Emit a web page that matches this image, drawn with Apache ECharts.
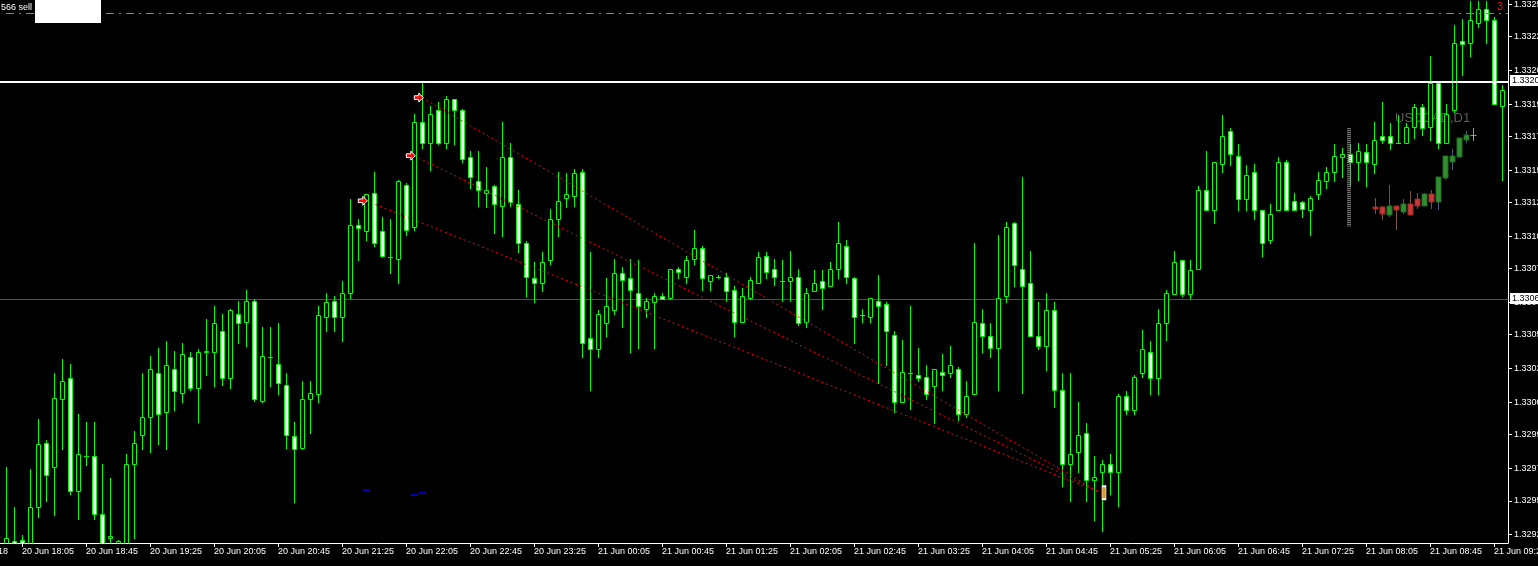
<!DOCTYPE html>
<html><head><meta charset="utf-8">
<script src="https://cdn.jsdelivr.net/npm/echarts@6/dist/echarts.min.js"></script>
<style>html,body{margin:0;padding:0;background:#000;overflow:hidden}#c{width:1538px;height:566px}</style>
</head><body><div id="c"></div><script>
const FONT = 'Liberation Sans, Arial, sans-serif';

// ---- M5 candles, 20 Jun 17:55 .. 21 Jun 09:30 (index 0..187) ----
const opens = [
1.32916,1.32917,1.32918,1.32916,1.32938,1.32978,1.32963,1.33005,1.33018,1.32948,
1.32970,1.32970,1.32934,1.32919,1.32916,1.32916,1.32965,1.32983,1.32994,1.33021,
1.32997,1.33024,1.33009,1.33031,1.33012,1.33034,1.33034,1.33047,1.33018,1.33058,
1.33053,1.33066,1.33004,1.33031,1.33027,1.33014,1.32982,1.32975,1.33005,1.33008,
1.33056,1.33066,1.33056,1.33071,1.33113,1.33109,1.33133,1.33109,1.33093,1.33092,
1.33138,1.33112,1.33177,1.33164,1.33184,1.33164,1.33191,1.33184,1.33155,1.33140,
1.33133,1.33137,1.33125,1.33155,1.33126,1.33102,1.33080,1.33077,1.33091,1.33117,
1.33130,1.33131,1.33146,1.33043,1.33036,1.33052,1.33060,1.33083,1.33080,1.33071,
1.33061,1.33065,1.33069,1.33068,1.33086,1.33081,1.33092,1.33099,1.33078,1.33081,
1.33081,1.33073,1.33053,1.33068,1.33077,1.33094,1.33086,1.33078,1.33078,1.33081,
1.33053,1.33072,1.33078,1.33075,1.33086,1.33100,1.33080,1.33057,1.33056,1.33066,
1.33064,1.33045,1.33003,1.33021,1.33020,1.33019,1.33013,1.33022,1.33021,1.33024,
1.32996,1.33008,1.33052,1.33044,1.33037,1.33069,1.33114,1.33086,1.33077,1.33044,
1.33038,1.33060,1.33011,1.32965,1.32972,1.32984,1.32955,1.32960,1.32965,1.32960,
1.33007,1.32998,1.33021,1.33034,1.33018,1.33052,1.33070,1.33091,1.33070,1.33086,
1.33135,1.33122,1.33151,1.33171,1.33156,1.33129,1.33146,1.33122,1.33104,1.33122,
1.33152,1.33128,1.33127,1.33122,1.33132,1.33140,1.33146,1.33155,1.33157,1.33152,
1.33158,1.33151,1.33168,1.33168,1.33164,1.33164,1.33174,1.33186,1.33174,1.33201,
1.33164,1.33184,1.33227,1.33226,1.33238,1.33247,1.33240,1.33187];
const highs = [
1.32963,1.32938,1.32921,1.32962,1.32993,1.32980,1.33021,1.33030,1.33027,1.32996,
1.32991,1.32991,1.32965,1.32956,1.32918,1.32971,1.32985,1.33021,1.33032,1.33037,
1.33041,1.33035,1.33040,1.33034,1.33036,1.33055,1.33063,1.33058,1.33061,1.33066,
1.33073,1.33067,1.33050,1.33050,1.33052,1.33021,1.32991,1.33016,1.33016,1.33063,
1.33071,1.33069,1.33078,1.33129,1.33117,1.33132,1.33146,1.33118,1.33117,1.33141,
1.33139,1.33182,1.33201,1.33187,1.33189,1.33193,1.33191,1.33185,1.33159,1.33159,
1.33149,1.33138,1.33177,1.33164,1.33135,1.33103,1.33090,1.33096,1.33123,1.33146,
1.33145,1.33148,1.33148,1.33096,1.33060,1.33080,1.33092,1.33087,1.33092,1.33091,
1.33068,1.33071,1.33071,1.33086,1.33087,1.33094,1.33110,1.33100,1.33082,1.33082,
1.33083,1.33075,1.33074,1.33081,1.33096,1.33096,1.33092,1.33091,1.33097,1.33086,
1.33074,1.33085,1.33085,1.33090,1.33115,1.33104,1.33081,1.33061,1.33068,1.33082,
1.33065,1.33047,1.33042,1.33063,1.33037,1.33026,1.33024,1.33033,1.33038,1.33025,
1.33016,1.33102,1.33061,1.33052,1.33107,1.33115,1.33115,1.33143,1.33097,1.33065,
1.33071,1.33065,1.33021,1.33021,1.33003,1.32990,1.32970,1.32967,1.32971,1.33008,
1.33010,1.33020,1.33048,1.33041,1.33061,1.33073,1.33097,1.33091,1.33091,1.33137,
1.33159,1.33152,1.33181,1.33173,1.33163,1.33150,1.33151,1.33122,1.33126,1.33155,
1.33153,1.33133,1.33128,1.33131,1.33146,1.33149,1.33163,1.33161,1.33163,1.33164,
1.33163,1.33177,1.33189,1.33176,1.33181,1.33176,1.33188,1.33188,1.33218,1.33202,
1.33188,1.33237,1.33241,1.33252,1.33252,1.33252,1.33242,1.33200];
const lows = [
1.32916,1.32915,1.32916,1.32915,1.32932,1.32942,1.32933,1.32974,1.32946,1.32931,
1.32964,1.32931,1.32915,1.32916,1.32915,1.32916,1.32919,1.32974,1.32972,1.32977,
1.32974,1.32998,1.33003,1.33011,1.32991,1.33020,1.33013,1.33014,1.33012,1.33040,
1.33038,1.33004,1.33003,1.33013,1.33008,1.32975,1.32941,1.32974,1.32984,1.33003,
1.33047,1.33047,1.33041,1.33068,1.33091,1.33104,1.33100,1.33093,1.33083,1.33077,
1.33107,1.33110,1.33161,1.33147,1.33163,1.33161,1.33163,1.33152,1.33136,1.33125,
1.33124,1.33108,1.33106,1.33125,1.33096,1.33069,1.33065,1.33072,1.33089,1.33106,
1.33124,1.33125,1.33031,1.33011,1.33031,1.33044,1.33058,1.33050,1.33034,1.33037,
1.33056,1.33037,1.33067,1.33067,1.33080,1.33077,1.33089,1.33073,1.33073,1.33080,
1.33066,1.33044,1.33053,1.33067,1.33077,1.33080,1.33076,1.33066,1.33066,1.33051,
1.33050,1.33072,1.33061,1.33075,1.33080,1.33077,1.33040,1.33053,1.33053,1.33015,
1.33026,1.32997,1.33003,1.32999,1.33016,1.33005,1.32990,1.33011,1.33019,1.32992,
1.32994,1.33008,1.33034,1.33031,1.33011,1.33065,1.33075,1.33009,1.33044,1.33036,
1.33023,1.33000,1.32951,1.32942,1.32960,1.32942,1.32930,1.32923,1.32946,1.32939,
1.32996,1.32996,1.33019,1.33008,1.33008,1.33042,1.33070,1.33069,1.33068,1.33086,
1.33122,1.33114,1.33146,1.33150,1.33122,1.33122,1.33117,1.33094,1.33102,1.33122,
1.33122,1.33122,1.33118,1.33107,1.33129,1.33136,1.33140,1.33143,1.33138,1.33141,
1.33137,1.33145,1.33164,1.33160,1.33164,1.33164,1.33167,1.33169,1.33166,1.33161,
1.33164,1.33183,1.33206,1.33218,1.33236,1.33226,1.33188,1.33141];
const closes = [
1.32919,1.32915,1.32916,1.32938,1.32977,1.32958,1.33006,1.33016,1.32948,1.32971,
1.32970,1.32934,1.32916,1.32920,1.32917,1.32965,1.32978,1.32994,1.33024,1.32996,
1.33026,1.33010,1.33033,1.33012,1.33034,1.33035,1.33052,1.33018,1.33060,1.33052,
1.33066,1.33005,1.33032,1.33031,1.33015,1.32983,1.32974,1.33005,1.33009,1.33057,
1.33065,1.33056,1.33071,1.33113,1.33111,1.33132,1.33102,1.33094,1.33093,1.33140,
1.33110,1.33177,1.33164,1.33182,1.33164,1.33191,1.33184,1.33154,1.33143,1.33135,
1.33135,1.33126,1.33155,1.33127,1.33102,1.33081,1.33077,1.33090,1.33117,1.33128,
1.33132,1.33145,1.33040,1.33036,1.33058,1.33063,1.33083,1.33079,1.33073,1.33063,
1.33066,1.33069,1.33067,1.33086,1.33084,1.33091,1.33099,1.33080,1.33082,1.33081,
1.33072,1.33053,1.33069,1.33079,1.33093,1.33084,1.33081,1.33078,1.33081,1.33052,
1.33071,1.33077,1.33074,1.33086,1.33102,1.33081,1.33056,1.33057,1.33068,1.33063,
1.33047,1.33003,1.33022,1.33021,1.33018,1.33008,1.33024,1.33020,1.33026,1.32996,
1.33007,1.33053,1.33044,1.33037,1.33068,1.33112,1.33088,1.33075,1.33044,1.33038,
1.33060,1.33011,1.32965,1.32971,1.32983,1.32955,1.32957,1.32965,1.32960,1.33007,
1.32998,1.33019,1.33036,1.33018,1.33052,1.33071,1.33090,1.33070,1.33085,1.33135,
1.33122,1.33152,1.33168,1.33157,1.33129,1.33144,1.33122,1.33102,1.33120,1.33152,
1.33122,1.33122,1.33123,1.33130,1.33141,1.33146,1.33156,1.33157,1.33152,1.33159,
1.33152,1.33166,1.33166,1.33164,1.33164,1.33174,1.33186,1.33173,1.33201,1.33164,
1.33182,1.33226,1.33225,1.33240,1.33247,1.33240,1.33188,1.33197];

// ---- time axis ----
const xTickIndex = [2,10,18,26,34,42,50,58,66,74,82,90,98,106,114,122,130,138,146,154,162,170,178,186];
const xTickLabels = ['20 Jun 18:05','20 Jun 18:45','20 Jun 19:25','20 Jun 20:05','20 Jun 20:45','20 Jun 21:25',
 '20 Jun 22:05','20 Jun 22:45','20 Jun 23:25','21 Jun 00:05','21 Jun 00:45','21 Jun 01:25','21 Jun 02:05',
 '21 Jun 02:45','21 Jun 03:25','21 Jun 04:05','21 Jun 04:45','21 Jun 05:25','21 Jun 06:05','21 Jun 06:45',
 '21 Jun 07:25','21 Jun 08:05','21 Jun 08:45','21 Jun 09:25'];
const firstDateLabel = '20 Jun 2018';

// ---- price axis ----
const yTickValues = [1.33250,1.33230,1.33209,1.33188,1.33168,1.33147,1.33127,1.33106,1.33086,1.33065,
 1.33045,1.33024,1.33003,1.32983,1.32962,1.32942,1.32921];
const yTickLabels = ['1.33250','1.33228','1.33207','1.33190','1.33170','1.33150','1.33125','1.33105','1.33077','1.33065',
 '1.33053','1.33025','1.33005','1.32990','1.32970','1.32950','1.32925'];

// ---- horizontal levels ----
const priceLine = 1.33202, priceLineLabel = '1.33202';
const bidLine = 1.33067, bidLineLabel = '1.33067';
const tpLevel = 1.33244;

// ---- closed trades (open index, open price) -> (close index, close price) ----
const tradeOpenX = [52, 51, 45];
const tradeOpenPrice = [1.33192, 1.33156, 1.33128];
const tradeCloseX = [136.8, 136.8, 136.8];
const tradeClosePrice = [1.32947, 1.32947, 1.32947];
const arrowX = [51.6, 50.6, 44.6];
const closeMarkX = 137.25, closeMarkPrice = 1.32947;

// ---- small blue stop marks ----
const stopX1 = [44.6, 50.6, 51.6];
const stopX2 = [45.5, 51.5, 52.5];
const stopPrice = [1.32949, 1.32946, 1.32947];

// ---- D1 mini chart indicator ----
const miniOpen  = [1.33124,1.33124,1.33119,1.33125,1.33121,1.33126,1.33129,1.33125,1.33132,1.33127,1.33142,1.33152,1.33155,1.33166,1.33169];
const miniHigh  = [1.33130,1.33125,1.33138,1.33125,1.33129,1.33134,1.33133,1.33133,1.33135,1.33143,1.33156,1.33160,1.33167,1.33171,1.33173];
const miniLow   = [1.33120,1.33116,1.33118,1.33110,1.33120,1.33119,1.33123,1.33125,1.33123,1.33122,1.33141,1.33147,1.33155,1.33164,1.33165];
const miniClose = [1.33123,1.33120,1.33125,1.33122,1.33126,1.33119,1.33125,1.33132,1.33127,1.33143,1.33156,1.33156,1.33167,1.33169,1.33169];
const ladderX = 167.9, ladderTop = 1.33173, ladderBottom = 1.33112;

const Y_MIN = 1.3291584, Y_MAX = 1.332525;
const X_MIN = -0.75, X_MAX = 187.75;

function nearest(arr, v) {
  let b = 0, d = Infinity;
  arr.forEach((a, i) => { const e = Math.abs(a - v); if (e < d) { d = e; b = i; } });
  return b;
}

function mainCandle(params, api) {
  const i = api.value(0), o = api.value(1), h = api.value(2), l = api.value(3), c = api.value(4);
  const pO = api.coord([i, o]), pC = api.coord([i, c]), pH = api.coord([i, h]), pL = api.coord([i, l]);
  const cx = Math.floor(pO[0]) + 0.5;
  const yT = Math.round(Math.min(pO[1], pC[1])) + 0.5;
  const yB = Math.round(Math.max(pO[1], pC[1])) + 0.5;
  const G = '#00ff00';
  const ch = [{ type: 'line', shape: { x1: cx, y1: Math.round(pH[1]), x2: cx, y2: Math.round(pL[1]) + 1 }, style: { stroke: G, lineWidth: 1 } }];
  if (yB - yT < 1) {
    ch.push({ type: 'line', shape: { x1: cx - 2.5, y1: yT, x2: cx + 2.5, y2: yT }, style: { stroke: G, lineWidth: 1 } });
  } else {
    ch.push({ type: 'rect', shape: { x: cx - 2, y: yT, width: 4, height: yB - yT }, style: { fill: c > o ? '#000000' : '#ffffff', stroke: G, lineWidth: 1 } });
  }
  return { type: 'group', children: ch };
}

function miniCandle(params, api) {
  const i = api.value(0), o = api.value(1), h = api.value(2), l = api.value(3), c = api.value(4);
  const pO = api.coord([i, o]), pC = api.coord([i, c]), pH = api.coord([i, h]), pL = api.coord([i, l]);
  const cx = Math.floor(pO[0]) + 0.5;
  const yT = Math.round(Math.min(pO[1], pC[1]));
  const yB = Math.round(Math.max(pO[1], pC[1]));
  const bull = c > o, flat = c === o;
  const wick = flat ? '#9a9a9a' : (bull ? '#46607e' : '#7a5238');
  const ch = [{ type: 'line', shape: { x1: cx, y1: Math.round(pH[1]), x2: cx, y2: Math.round(pL[1]) }, style: { stroke: wick, lineWidth: 1 } }];
  if (flat || yB - yT < 1) {
    ch.push({ type: 'line', shape: { x1: cx - 3, y1: yT + 0.5, x2: cx + 3, y2: yT + 0.5 }, style: { stroke: flat ? '#9a9a9a' : '#c0392b', lineWidth: 1 } });
  } else {
    ch.push({ type: 'rect', shape: { x: cx - 2.5, y: yT, width: 5, height: yB - yT }, style: { fill: bull ? '#2f8f2f' : '#c63a3a', stroke: bull ? '#226b22' : '#9e2a2a', lineWidth: 1 } });
  }
  return { type: 'group', children: ch };
}

// price tag boxes on the right axis, placed through the axis scale
function priceTag(params, api) {
  const p = api.coord([api.value(0), api.value(1)]);
  const y = Math.round(p[1]);
  return { type: 'group', children: [
    { type: 'rect', shape: { x: p[0] + 2, y: y - 6, width: 40, height: 11 }, style: { fill: '#ffffff' } },
    { type: 'text', x: p[0] + 4, y: y, style: { text: api.value(2), fill: '#000000', font: '9px ' + FONT, verticalAlign: 'middle', align: 'left' } }
  ] };
}

const candleRows = opens.map((o, i) => [i, o, highs[i], lows[i], closes[i]]);
const miniRows = miniOpen.map((o, i) => [i, o, miniHigh[i], miniLow[i], miniClose[i]]);

const chart = echarts.init(document.getElementById('c'), null, { renderer: 'canvas' });
chart.setOption({
  backgroundColor: '#000000',
  animation: false,
  textStyle: { fontFamily: FONT },
  grid: [
    { left: 0, right: 30, top: 0, bottom: 23, containLabel: false, outerBoundsMode: 'none' },
    { left: 1371.5, width: 105, top: 0, bottom: 23, containLabel: false, outerBoundsMode: 'none' }
  ],
  xAxis: [
    { type: 'value', gridIndex: 0, min: X_MIN, max: X_MAX, position: 'bottom',
      axisLine: { show: true, onZero: false, lineStyle: { color: '#ffffff', width: 1 } },
      axisTick: { show: true, customValues: xTickIndex, length: 4, lineStyle: { color: '#ffffff' } },
      axisLabel: { show: true, customValues: xTickIndex, color: '#ffffff', fontSize: 9, fontFamily: FONT, align: 'left', margin: 4,
        formatter: v => xTickLabels[nearest(xTickIndex, v)] },
      splitLine: { show: false } },
    { type: 'value', gridIndex: 1, min: -0.5, max: 14.5, show: false }
  ],
  yAxis: [
    { type: 'value', gridIndex: 0, position: 'right', min: Y_MIN, max: Y_MAX,
      axisLine: { show: true, onZero: false, lineStyle: { color: '#ffffff', width: 1 } },
      axisTick: { show: true, customValues: yTickValues, length: 4, lineStyle: { color: '#ffffff' } },
      axisLabel: { show: true, customValues: yTickValues, color: '#ffffff', fontSize: 9, fontFamily: FONT, margin: 6,
        formatter: v => yTickLabels[nearest(yTickValues, v)] },
      splitLine: { show: false } },
    { type: 'value', gridIndex: 1, min: Y_MIN, max: Y_MAX, show: false }
  ],
  graphic: [
    { type: 'text', z: 0, left: 1395, top: 112, style: { text: 'USDCAD,D1', fill: '#5e5e5e', font: '13px ' + FONT } },
    { type: 'rect', z: 100, left: 35, top: 0, shape: { width: 66, height: 23 }, style: { fill: '#ffffff' } },
    { type: 'text', z: 100, left: 1, top: 3, style: { text: '566 sell', fill: '#ffffff', font: '9px ' + FONT } },
    { type: 'text', z: 100, x: 8, y: 552, style: { text: firstDateLabel, fill: '#ffffff', font: '9px ' + FONT, align: 'right', verticalAlign: 'middle' } },
    { type: 'text', z: 100, x: 1497, y: 1, style: { text: '3', fill: '#ff0000', font: '11px ' + FONT } }
  ],
  series: [
    { type: 'lines', coordinateSystem: 'cartesian2d', z: 2, silent: true,
      data: [{ coords: [[X_MIN, bidLine], [X_MAX, bidLine]] }],
      lineStyle: { color: '#3c5656', width: 1, type: 'solid', opacity: 1 } },
    { type: 'custom', name: 'USDCAD M5', xAxisIndex: 0, yAxisIndex: 0, z: 3, clip: true, silent: true,
      dimensions: ['i', 'open', 'high', 'low', 'close'], encode: { x: 0, y: [1, 2, 3, 4] },
      renderItem: mainCandle, data: candleRows },
    { type: 'lines', coordinateSystem: 'cartesian2d', z: 4, silent: true,
      data: [{ coords: [[X_MIN, priceLine], [X_MAX, priceLine]] }],
      lineStyle: { color: '#ffffff', width: 2, type: 'solid', opacity: 1 } },
    { type: 'custom', z: 20, silent: true, clip: false, xAxisIndex: 0, yAxisIndex: 0,
      dimensions: ['x', 'price', 'label'], encode: { x: 0, y: 1 },
      renderItem: priceTag,
      data: [[X_MAX, priceLine, priceLineLabel], [X_MAX, bidLine, bidLineLabel]] },
    { type: 'lines', coordinateSystem: 'cartesian2d', z: 4, silent: true,
      data: [{ coords: [[0, tpLevel], [X_MAX, tpLevel]] }],
      lineStyle: { color: '#3cb83c', width: 1, type: [8, 5, 2, 5], opacity: 1 } },
    { type: 'lines', coordinateSystem: 'cartesian2d', z: 5, silent: true,
      data: tradeOpenX.map((x, k) => ({ coords: [[x, tradeOpenPrice[k]], [tradeCloseX[k], tradeClosePrice[k]]] })),
      lineStyle: { color: '#ff0000', width: 1, type: [2, 3], opacity: 1 } },
    { type: 'lines', coordinateSystem: 'cartesian2d', z: 5, silent: true,
      data: stopX1.map((x, k) => ({ coords: [[x, stopPrice[k]], [stopX2[k], stopPrice[k]]] })),
      lineStyle: { color: '#0000ff', width: 1.5, type: 'solid', opacity: 1 } },
    { type: 'lines', coordinateSystem: 'cartesian2d', z: 5, silent: true,
      data: [{ coords: [[ladderX, ladderTop], [ladderX, ladderBottom]] }],
      lineStyle: { color: '#8c8c8c', width: 4, type: [1, 1], opacity: 1 } },
    { type: 'scatter', z: 6, silent: true,
      symbol: 'path://M0,3 L5,3 L5,0 L10,5 L5,10 L5,7 L0,7 Z', symbolSize: [9, 9],
      itemStyle: { color: '#ff0000', borderColor: '#ffffff', borderWidth: 1, opacity: 1 },
      data: arrowX.map((x, k) => [x, tradeOpenPrice[k]]) },
    { type: 'scatter', z: 6, silent: true, symbol: 'rect', symbolSize: [4, 13],
      itemStyle: { color: '#d89a30', borderColor: '#ffffff', borderWidth: 1, opacity: 1 },
      data: [[closeMarkX, closeMarkPrice]] },
    { type: 'custom', name: 'D1', xAxisIndex: 1, yAxisIndex: 1, z: 4, silent: true,
      dimensions: ['i', 'open', 'high', 'low', 'close'], encode: { x: 0, y: [1, 2, 3, 4] },
      renderItem: miniCandle, data: miniRows }
  ]
});
</script></body></html>
